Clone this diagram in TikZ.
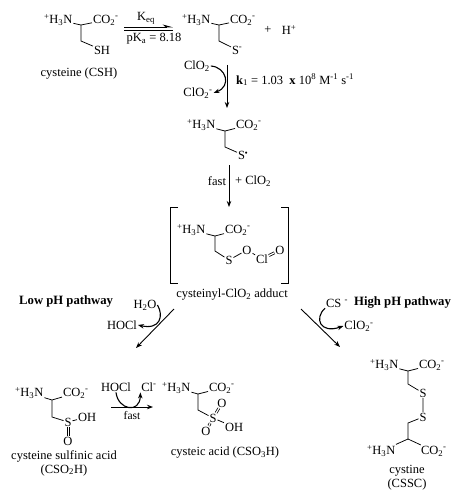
\documentclass[tikz,border=0pt]{standalone}
\usepackage{fontspec}
\setmainfont{Liberation Serif}
\usetikzlibrary{arrows.meta,positioning}

\newcommand{\hthreen}{\textsuperscript{+}H\textsubscript{3}N}
\newcommand{\cotwo}{CO\textsubscript{2}\textsuperscript{-}}
\newcommand{\clotwo}{ClO\textsubscript{2}}

\begin{document}
\begin{tikzpicture}[
  x=1pt, y=-1pt,
  font=\fontsize{12.5}{14}\selectfont,
  >={Stealth[length=6pt,width=4.5pt]},
  atom/.style={inner sep=0.8pt},
  lbl/.style={inner sep=0pt, align=center},
  small/.style={inner sep=0pt, font=\fontsize{11.5}{13}\selectfont},
  path/.style={inner sep=0pt, font=\fontsize{12.7}{14}\selectfont\bfseries},
  bond/.style={line width=0.75pt},
  arrow/.style={->, line width=0.9pt},
  curly/.style={->, line width=1.1pt}
]
  \useasboundingbox (0,0) rectangle (463,495);

  % cysteine
  \node[atom, anchor=west] (n1) at (43,20) {\hthreen};
  \node[atom, anchor=west] (c1) at (92,20) {\cotwo};
  \node[atom, anchor=west] (sh1) at (93,50) {SH};
  \coordinate (v1) at (81,25);
  \coordinate (m1) at (81,41);
  \draw[bond] (n1) -- (v1) -- (c1);
  \draw[bond] (v1) -- (m1) -- (sh1);
  \node[lbl] (csh) at (79,74) {cysteine (CSH)};

  % equilibrium
  \coordinate (eqa) at (124,27);
  \coordinate (eqb) at (173,27);
  \coordinate (eqc) at (124,30);
  \coordinate (eqd) at (173,30);
  \draw[bond, -{Stealth[harpoon,length=9pt,width=5pt]}] (eqa) -- (eqb);
  \draw[bond] (eqc) -- (eqd);
  \node[lbl] (keq) at (146,18) {K\textsubscript{eq}};
  \node[lbl] (pka) at (154,39) {pK\textsubscript{a} = 8.18};

  % thiolate
  \node[atom, anchor=west] (n2) at (181,20) {\hthreen};
  \node[atom, anchor=west] (c2) at (229,20) {\cotwo};
  \node[atom, anchor=west] (s2) at (231,50) {S\textsuperscript{-}};
  \coordinate (v2) at (219,25);
  \coordinate (m2) at (219,41);
  \draw[bond] (n2) -- (v2) -- (c2);
  \draw[bond] (v2) -- (m2) -- (s2);
  \node[lbl] (plus) at (268,30) {+};
  \node[lbl] (hplus) at (289,30) {H\textsuperscript{+}};

  % first step
  \coordinate (a1) at (227,65);
  \coordinate (b1) at (227,108);
  \draw[arrow] (a1) -- (b1);
  \node[atom] (clo1) at (197,66) {\clotwo};
  \node[atom] (clo2) at (198,93) {\clotwo\textsuperscript{-}};
  \draw[curly] (clo1.east) .. controls (226,67) and (232,86) .. (clo2.east);
  \node[lbl, anchor=west] (k1) at (236,80) {\textbf{k}\textsubscript{1} = 1.03 \ \textbf{x} 10\textsuperscript{8} M\textsuperscript{-1} s\textsuperscript{-1}};

  % radical
  \node[atom, anchor=west] (n3) at (186,125) {\hthreen};
  \node[atom, anchor=west] (c3) at (235,125) {\cotwo};
  \node[atom, anchor=west] (s3) at (237,155) {S\textsuperscript{\raisebox{0.3pt}{\scalebox{0.6}{$\bullet$}}}};
  \coordinate (v3) at (225,131);
  \coordinate (m3) at (225,147);
  \draw[bond] (n3) -- (v3) -- (c3);
  \draw[bond] (v3) -- (m3) -- (s3);

  % second step
  \coordinate (a2) at (229,165);
  \coordinate (b2) at (229,207);
  \draw[arrow] (a2) -- (b2);
  \node[lbl] (fast1) at (217,181) {fast};
  \node[lbl, anchor=west] (addclo) at (235,181) {+ \clotwo};

  % adduct
  \coordinate (bl1) at (178,207);
  \coordinate (bl2) at (170,207);
  \coordinate (bl3) at (170,283);
  \coordinate (bl4) at (178,283);
  \coordinate (br1) at (281,207);
  \coordinate (br2) at (288,207);
  \coordinate (br3) at (288,283);
  \coordinate (br4) at (281,283);
  \draw[bond] (bl1) -- (bl2) -- (bl3) -- (bl4);
  \draw[bond] (br1) -- (br2) -- (br3) -- (br4);
  \node[atom, anchor=west] (n4) at (176,230) {\hthreen};
  \node[atom, anchor=west] (c4) at (224,230) {\cotwo};
  \node[atom] (s4) at (229,260) {S};
  \node[atom] (o4) at (247,250) {O};
  \node[atom] (cl4) at (262,259) {Cl};
  \node[atom] (od4) at (280,250) {O};
  \coordinate (v4) at (215,236);
  \coordinate (m4) at (215,251);
  \draw[bond] (n4) -- (v4) -- (c4);
  \draw[bond] (v4) -- (m4) -- (s4) -- (o4) -- (cl4);
  \draw[bond, double, double distance=1.2pt] (cl4) -- (od4);
  \node[lbl] (adduct) at (232,295) {cysteinyl-\clotwo{} adduct};

  % low pH branch
  \node[path, anchor=west] (lowph) at (19,301) {Low pH pathway};
  \coordinate (a3) at (174,309);
  \coordinate (b3) at (136,348);
  \draw[arrow] (a3) -- (b3);
  \node[atom] (hto) at (145,305) {H\textsubscript{2}O};
  \node[atom] (hocl1) at (122,325) {HOCl};
  \draw[curly] (hto.east) .. controls (164,316) and (160,330) .. (hocl1.east);

  % sulfinic acid
  \node[atom, anchor=west] (n5) at (14,393) {\hthreen};
  \node[atom, anchor=west] (c5) at (62,393) {\cotwo};
  \node[atom] (s5) at (68,422) {S};
  \node[atom, anchor=west] (oh5) at (77,417) {OH};
  \node[atom] (o5) at (68,441) {O};
  \coordinate (v5) at (52,400);
  \coordinate (m5) at (52,417);
  \draw[bond] (n5) -- (v5) -- (c5);
  \draw[bond] (v5) -- (m5) -- (s5) -- (oh5);
  \draw[bond] ([xshift=-1pt]s5.south) -- ([xshift=-1pt]o5.north);
  \draw[bond] ([xshift=1pt]s5.south) -- ([xshift=1pt]o5.north);
  \node[lbl] (cso2h) at (64,463) {cysteine sulfinic acid\\(CSO\textsubscript{2}H)};

  % fast step
  \coordinate (a4) at (111,407);
  \coordinate (b4) at (153,407);
  \draw[arrow] (a4) -- (b4);
  \node[atom] (hocl2) at (116,387) {HOCl};
  \node[atom] (cl5) at (149,387) {Cl\textsuperscript{-}};
  \node[small] (fast2) at (132,416) {fast};
  \draw[curly] (hocl2.south) .. controls (118,410) and (140,414) .. (cl5.south west);

  % cysteic acid
  \node[atom, anchor=west] (n6) at (161,388) {\hthreen};
  \node[atom, anchor=west] (c6) at (208,388) {\cotwo};
  \node[atom] (s6) at (213,418) {S};
  \node[atom] (ot6) at (222,403) {O};
  \node[atom] (ol6) at (206,431) {O};
  \node[atom, anchor=west] (oh6) at (224,427) {OH};
  \coordinate (v6) at (198,394);
  \coordinate (m6) at (198,410);
  \draw[bond] (n6) -- (v6) -- (c6);
  \draw[bond] (v6) -- (m6) -- (s6) -- (oh6);
  \draw[bond, double, double distance=1.2pt] (s6) -- (ot6);
  \draw[bond, double, double distance=1.2pt] (s6) -- (ol6);
  \node[lbl] (cso3h) at (225,453) {cysteic acid (CSO\textsubscript{3}H)};

  % high pH branch
  \node[path, anchor=west] (highph) at (354,302) {High pH pathway};
  \coordinate (a5) at (301,309);
  \coordinate (b5) at (340,347);
  \draw[arrow] (a5) -- (b5);
  \node[atom] (cs) at (337,303) {CS \textsuperscript{-}};
  \node[atom] (clo3) at (359,326) {\clotwo\textsuperscript{-}};
  \draw[curly] (cs.south west) .. controls (314,318) and (320,334) .. (clo3.west);

  % cystine
  \node[atom, anchor=west] (n7) at (369,365) {\hthreen};
  \node[atom, anchor=west] (c7) at (418,365) {\cotwo};
  \node[atom] (s7a) at (423,393) {S};
  \node[atom] (s7b) at (423,417) {S};
  \node[atom, anchor=west] (n8) at (366,451) {\hthreen};
  \node[atom, anchor=west] (c8) at (420,451) {\cotwo};
  \coordinate (v7) at (408,371);
  \coordinate (m7) at (408,384);
  \coordinate (m8) at (408,423);
  \coordinate (v8) at (408,439);
  \draw[bond] (n7) -- (v7) -- (c7);
  \draw[bond] (v7) -- (m7) -- (s7a) -- (s7b) -- (m8) -- (v8);
  \draw[bond] (n8) -- (v8) -- (c8);
  \node[lbl] (cssc) at (407,478) {cystine\\(CSSC)};
\end{tikzpicture}
\end{document}
